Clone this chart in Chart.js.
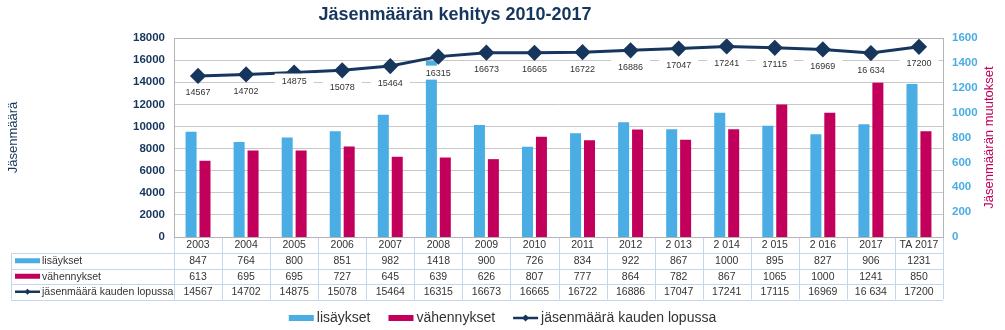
<!DOCTYPE html>
<html>
<head>
<meta charset="utf-8">
<script src="https://cdn.jsdelivr.net/npm/chart.js@4.4.0/dist/chart.umd.min.js"></script>
<style>
  html, body { margin: 0; padding: 0; background: #fff; }
  #wrap { width: 1005px; height: 330px; }
</style>
</head>
<body>
<div id="wrap"><canvas id="chart" width="1005" height="330"></canvas></div>
<script>
// data
const categories = ['2003', '2004', '2005', '2006', '2007', '2008', '2009', '2010', '2011', '2012', '2 013', '2 014', '2 015', '2 016', '2017', 'TA 2017'];
const lisaykset = [847, 764, 800, 851, 982, 1418, 900, 726, 834, 922, 867, 1000, 895, 827, 906, 1231];
const vahennykset = [613, 695, 695, 727, 645, 639, 626, 807, 777, 864, 782, 867, 1065, 1000, 1241, 850];
const jasenmaara = [14567, 14702, 14875, 15078, 15464, 16315, 16673, 16665, 16722, 16886, 17047, 17241, 17115, 16969, 16634, 17200];
const jasenmaaraText = ['14567', '14702', '14875', '15078', '15464', '16315', '16673', '16665', '16722', '16886', '17047', '17241', '17115', '16969', '16 634', '17200'];
const seriesNames = ['lisäykset', 'vähennykset', 'jäsenmäärä kauden lopussa'];
const leftMax = 18000, leftStep = 2000;
const rightMax = 1600, rightStep = 200;

const FONT = '"Liberation Sans", Arial, sans-serif';
const BLUE = '#4aade3';
const MAGENTA = '#c2005b';
const NAVY = '#17365d';
const TABLE_LINE = '#c5d6ea';

// titles, table and legend drawn around the chart area
const extras = {
    id: 'extras',
    afterDatasetsDraw(chart) {
        // point labels with white boxes
        const ctx = chart.ctx;
        const meta = chart.getDatasetMeta(2);
        ctx.save();
        ctx.font = '9px ' + FONT;
        ctx.textAlign = 'center';
        ctx.textBaseline = 'middle';
        meta.data.forEach((pt, i) => {
            const txt = jasenmaaraText[i];
            const dy = i === 2 ? 8 : 16;
            const w = ctx.measureText(txt).width + 14;
            ctx.fillStyle = '#fff';
            ctx.fillRect(pt.x - w / 2, pt.y + dy - 7, w, 14);
            ctx.fillStyle = '#333';
            ctx.fillText(txt, pt.x, pt.y + dy + 1);
        });
        ctx.restore();
    },
    afterDraw(chart) {
        const ctx = chart.ctx;
        const a = chart.chartArea;
        const x = chart.scales.x;
        const n = categories.length;
        ctx.save();

        // title
        ctx.fillStyle = NAVY;
        ctx.font = 'bold 18px ' + FONT;
        ctx.textAlign = 'center';
        ctx.textBaseline = 'middle';
        ctx.fillText('Jäsenmäärän kehitys 2010-2017', 455, 15);

        // axis titles
        ctx.font = '13px ' + FONT;
        ctx.save();
        ctx.translate(13, (a.top + a.bottom) / 2);
        ctx.rotate(-Math.PI / 2);
        ctx.fillStyle = NAVY;
        ctx.fillText('Jäsenmäärä', 0, 0);
        ctx.restore();
        ctx.save();
        ctx.translate(989, (a.top + a.bottom) / 2);
        ctx.rotate(-Math.PI / 2);
        ctx.fillStyle = MAGENTA;
        ctx.fillText('Jäsenmäärän muutokset', 0, 0);
        ctx.restore();

        // table
        const rowH = [16, 15.5, 15.5, 15.5];
        const rows = [a.bottom];
        rowH.forEach(h => rows.push(rows[rows.length - 1] + h));
        const tableLeft = 11;
        const bounds = [a.left];
        for (let i = 1; i < n; i++) {
            bounds.push((x.getPixelForValue(i - 1) + x.getPixelForValue(i)) / 2);
        }
        bounds.push(a.right);

        ctx.strokeStyle = TABLE_LINE;
        ctx.lineWidth = 1;
        ctx.beginPath();
        bounds.forEach(bx => {
            ctx.moveTo(Math.round(bx) + 0.5, rows[0]);
            ctx.lineTo(Math.round(bx) + 0.5, rows[4]);
        });
        ctx.moveTo(tableLeft + 0.5, rows[1]);
        ctx.lineTo(tableLeft + 0.5, rows[4]);
        for (let r = 1; r <= 4; r++) {
            ctx.moveTo(tableLeft, Math.round(rows[r]) + 0.5);
            ctx.lineTo(a.right, Math.round(rows[r]) + 0.5);
        }
        ctx.stroke();

        // plot border
        ctx.strokeStyle = '#b4b4b4';
        ctx.strokeRect(Math.round(a.left) + 0.5, Math.round(a.top) + 0.5,
            Math.round(a.right - a.left), Math.round(a.bottom - a.top));

        // table text
        ctx.fillStyle = '#333';
        ctx.font = '10.5px ' + FONT;
        ctx.textAlign = 'center';
        ctx.textBaseline = 'middle';
        const tableRows = [categories, lisaykset, vahennykset, jasenmaaraText];
        tableRows.forEach((vals, r) => {
            const cy = (rows[r] + rows[r + 1]) / 2 + 0.5;
            vals.forEach((v, i) => ctx.fillText(String(v), x.getPixelForValue(i), cy));
        });

        // row headers with keys
        ctx.textAlign = 'left';
        seriesNames.forEach((name, r) => {
            const cy = (rows[r + 1] + rows[r + 2]) / 2;
            drawKey(ctx, r, 15, cy, 25, 5, 3);
            ctx.fillStyle = '#333';
            ctx.fillText(name, 42, cy + 0.5);
        });

        // bottom legend
        ctx.font = '14px ' + FONT;
        const keyW = 25, gap = 3, itemGap = 18;
        const widths = seriesNames.map(s => keyW + gap + ctx.measureText(s).width);
        const total = widths.reduce((s, w) => s + w, 0) + itemGap * (widths.length - 1);
        let lx = chart.width / 2 - total / 2;
        const ly = 318;
        seriesNames.forEach((name, r) => {
            drawKey(ctx, r, lx, ly, keyW, 6, 3.5);
            ctx.fillStyle = '#333';
            ctx.fillText(name, lx + keyW + gap, ly);
            lx += widths[r] + itemGap;
        });

        ctx.restore();
    }
};

function drawKey(ctx, r, x0, cy, w, h, d) {
    if (r < 2) {
        ctx.fillStyle = r === 0 ? BLUE : MAGENTA;
        ctx.fillRect(x0, cy - h / 2, w, h);
    } else {
        ctx.strokeStyle = NAVY;
        ctx.lineWidth = 2.5;
        ctx.beginPath();
        ctx.moveTo(x0, cy);
        ctx.lineTo(x0 + w, cy);
        ctx.stroke();
        ctx.fillStyle = NAVY;
        ctx.beginPath();
        ctx.moveTo(x0 + w / 2, cy - d);
        ctx.lineTo(x0 + w / 2 + d, cy);
        ctx.lineTo(x0 + w / 2, cy + d);
        ctx.lineTo(x0 + w / 2 - d, cy);
        ctx.closePath();
        ctx.fill();
    }
}

const ctx = document.getElementById('chart').getContext('2d');
const chart = new Chart(ctx, {
    data: {
        labels: categories,
        datasets: [{
            type: 'bar',
            label: seriesNames[0],
            data: lisaykset,
            backgroundColor: BLUE,
            yAxisID: 'y1',
            order: 1,
            categoryPercentage: 0.58,
            barPercentage: 0.79
        }, {
            type: 'bar',
            label: seriesNames[1],
            data: vahennykset,
            backgroundColor: MAGENTA,
            yAxisID: 'y1',
            order: 1,
            categoryPercentage: 0.58,
            barPercentage: 0.79
        }, {
            type: 'line',
            label: seriesNames[2],
            data: jasenmaara,
            borderColor: NAVY,
            backgroundColor: NAVY,
            borderWidth: 3,
            pointStyle: 'rectRot',
            pointRadius: 6,
            pointHoverRadius: 6,
            tension: 0,
            yAxisID: 'y',
            order: 0
        }]
    },
    options: {
        responsive: false,
        animation: false,
        devicePixelRatio: 1,
        layout: { padding: { top: 38, bottom: 93, left: 0, right: 0 } },
        plugins: {
            legend: { display: false },
            title: { display: false },
            tooltip: { enabled: false }
        },
        scales: {
            x: { display: false, offset: true },
            y: {
                position: 'left',
                min: 0,
                max: leftMax,
                ticks: {
                    stepSize: leftStep,
                    padding: 9,
                    color: NAVY,
                    font: { family: FONT, size: 11.5, weight: 'bold' },
                    callback: (v) => String(v)
                },
                grid: { color: '#c8c8c8', drawTicks: false },
                border: { display: false },
                afterFit: (scale) => { scale.width = 174; }
            },
            y1: {
                position: 'right',
                min: 0,
                max: rightMax,
                ticks: {
                    stepSize: rightStep,
                    padding: 9,
                    color: BLUE,
                    font: { family: FONT, size: 11.5, weight: 'bold' },
                    callback: (v) => String(v)
                },
                grid: { display: false, drawTicks: false },
                border: { display: false },
                afterFit: (scale) => { scale.width = 62; }
            }
        }
    },
    plugins: [extras]
});
</script>
</body>
</html>
